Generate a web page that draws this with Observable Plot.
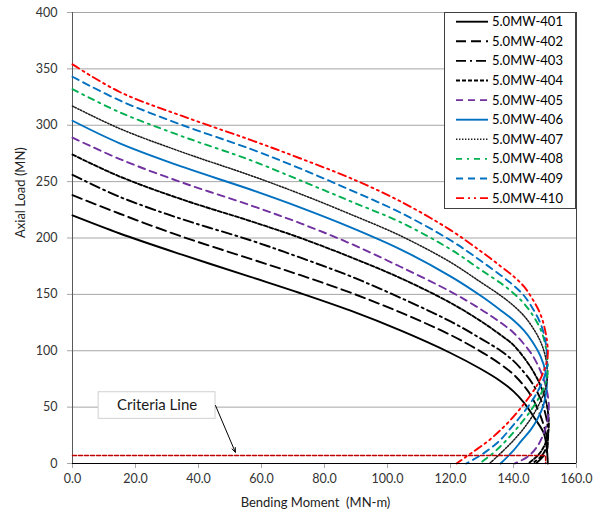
<!DOCTYPE html>
<html><head><meta charset="utf-8">
<script src="https://cdn.jsdelivr.net/npm/d3@7"></script>
<script src="https://cdn.jsdelivr.net/npm/@observablehq/plot@0.6"></script>
<style>body{margin:0;background:#fff;font-family:Lato,sans-serif}</style>
</head><body><div id="chart"></div>
<script>
// ---- data ----
const xTicks = [0, 20, 40, 60, 80, 100, 120, 140, 160];
const yTicks = [0, 50, 100, 150, 200, 250, 300, 350, 400];
const seriesNames = ["5.0MW-401","5.0MW-402","5.0MW-403","5.0MW-404","5.0MW-405","5.0MW-406","5.0MW-407","5.0MW-408","5.0MW-409","5.0MW-410"];
// [bending moment (MN-m), axial load (MN)]
const s401 = [[0,220],[15,204],[35,185],[56.5,165.5],[72.4,151],[88.3,135.5],[104.1,118],[120,98],[129.5,84],[135.9,73],[140,64],[143.3,54],[147,39],[149.6,27],[150.5,15],[150.9,0]];
const s402 = [[0,238],[15,221.5],[35,201],[56.5,181.5],[72.4,167],[88.3,151.5],[104.1,134],[120,114],[129.5,99.5],[135.9,88],[140,79],[143.3,69],[146,58],[148.6,42],[150.2,28],[150.9,18],[150.4,10],[149,5],[147.1,0]];
const s403 = [[0,256],[15,236.5],[35,216.5],[56.5,198],[72.4,182.5],[88.3,166],[104.1,147],[120,126],[129.5,111],[135.9,100],[140,91],[143.3,81],[146,71],[148.6,57],[150.3,42],[151,27],[150.6,16],[149,7],[145.9,0]];
const s404 = [[0,274],[15,254.5],[35,234],[56.5,215],[72.4,200],[88.3,183],[104.1,164.5],[120,142.5],[129.5,126.5],[135.9,114],[140,105],[143.3,94],[146,83],[148.6,69],[150.4,54],[151.2,38],[151,27],[150,17],[148,8],[144.7,0]];
const s405 = [[0,289],[15,270],[35,249],[56.5,229],[72.4,213],[88.3,195],[104.1,174.5],[120,152.5],[129.5,137],[135.9,125],[140,116],[143.3,106],[146,96],[148.6,82],[150.4,67],[151.2,52],[150.8,38],[149.5,26],[147.5,15],[144.5,6],[140.4,0]];
const s406 = [[0,304],[15,284],[35,263],[56.5,243],[72.4,227],[88.3,209.5],[104.1,190],[120,166],[129.5,149],[135.9,136],[140,127],[143.3,118],[146,108],[148.6,95],[150.2,81],[150.6,70],[150.2,60],[149.3,50],[147.7,40],[145.5,30],[142.5,20],[139.5,10],[135.9,0]];
const s407 = [[0,317],[15,297],[35,276],[56.5,255.5],[72.4,239],[88.3,221],[104.1,202],[120,178.5],[129.5,161],[135.9,149],[140,140],[143.3,131],[146,121],[148.6,108],[150.2,94],[150.8,80],[150.6,72],[149.6,62],[148,52],[146,42],[143.5,32],[140.5,22],[137,12],[132.4,0]];
const s408 = [[0,332],[15,311.5],[35,290],[56.5,269],[72.4,251],[88.3,232.5],[104.1,214],[120,190],[129.5,172],[135.9,160],[140,151],[143.3,142],[146,132],[148.6,119],[150.2,104],[150.9,86],[150.6,76],[149.6,67],[147.8,57],[145.5,47],[142.8,37],[139.8,27],[136.5,17],[133,8],[129.3,0]];
const s409 = [[0,343],[15,322],[35,300],[56.5,279],[72.4,261.5],[88.3,242.5],[104.1,222.5],[120,198],[129.5,180],[135.9,167],[140,158],[143.3,149],[146,138],[148.6,124],[150.1,109],[150.7,92],[150.5,84],[149.4,74],[147.5,63],[145,52],[142,41],[139,31],[135.5,20],[130.5,9],[125,0]];
const s410 = [[0,354],[15,329.5],[35,308],[56.5,287],[72.4,270.5],[88.3,253],[104.1,232.5],[120,207],[129.5,188.5],[135.9,175],[140,166],[143.3,157],[146,146],[148.6,132],[150.2,116],[150.9,100],[150.7,92],[149.6,82],[147.8,71],[145.5,61],[142.5,50],[139.5,40],[136,30],[132,20],[127,10],[121.9,0]];
const criteria = [[0,7],[150.2,7],[150.2,0]];
const criteriaLabel = [{text: "Criteria Line", x1: 8.3, x2: 45.4, y1: 39.6, y2: 63.2}];
const criteriaArrow = [{x1: 45.4, y1: 51.4, x2: 51.7, y2: 10}];
const xTitle = "Bending Moment\u00A0 (MN-m)";
const yTitle = "Axial Load (MN)";

// ---- styles ----
const styles = [
  {stroke: "#000000", dash: null, w: 1.9},
  {stroke: "#000000", dash: "10,5", w: 1.9},
  {stroke: "#000000", dash: "10,4,2,4", w: 1.9},
  {stroke: "#000000", dash: "4,2", w: 1.9},
  {stroke: "#7030A0", dash: "7,5", w: 1.9},
  {stroke: "#0070C0", dash: null, w: 1.9},
  {stroke: "#1a1a1a", dash: "1.4,1.6", w: 1.5},
  {stroke: "#00B050", dash: "6,5,2,5", w: 1.9},
  {stroke: "#0070C0", dash: "7,5", w: 1.9},
  {stroke: "#FF0000", dash: "8,4,2,4,2,4", w: 1.9}
];
const allSeries = [s401,s402,s403,s404,s405,s406,s407,s408,s409,s410];

const lineMarks = allSeries.map((s, i) => Plot.line(s, {
  x: d => d[0], y: d => d[1], stroke: styles[i].stroke, strokeWidth: styles[i].w,
  strokeDasharray: styles[i].dash, curve: "catmull-rom"
}));

const chart = Plot.plot({
  width: 606, height: 518,
  marginLeft: 72, marginRight: 30, marginTop: 12, marginBottom: 55,
  x: {domain: [0, 160]},
  y: {domain: [0, 400]},
  style: {fontFamily: "Lato, sans-serif", fontSize: "12.5px", color: "#333", background: "#fff", overflow: "visible"},
  marks: [
    Plot.gridY(yTicks.filter(t => t > 0), {stroke: "#a6a6a6", strokeOpacity: 1}),
    Plot.axisY(yTicks, {tickSize: 5, tickPadding: 10, label: null, stroke: "#a6a6a6", fill: "#333"}),
    Plot.axisX(xTicks, {tickSize: 5, tickPadding: 6, label: null, stroke: "#a6a6a6", fill: "#333", tickFormat: d => d.toFixed(1)}),
    Plot.ruleX([0], {stroke: "#595959"}),
    Plot.ruleX([160], {stroke: "#404040"}),
    ...lineMarks,
    Plot.line(criteria, {x: d => d[0], y: d => d[1], stroke: "#C00000", strokeWidth: 1.5, strokeDasharray: "4,2"}),
    Plot.ruleY([0], {stroke: "#000"}),
    Plot.rect(criteriaLabel, {x1: "x1", x2: "x2", y1: "y1", y2: "y2", fill: "#fff", stroke: "#d0d0d0"}),
    Plot.text(criteriaLabel, {x: d => (d.x1 + d.x2) / 2, y: d => (d.y1 + d.y2) / 2, text: "text", fontSize: 15, fill: "#1a1a1a"}),
    Plot.arrow(criteriaArrow, {x1: "x1", y1: "y1", x2: "x2", y2: "y2", stroke: "#000", strokeWidth: 1, headLength: 7, headAngle: 45}),
    Plot.text([xTitle], {frameAnchor: "bottom", dy: 43, dx: -9, fontSize: 13, fill: "#222"}),
    Plot.text([yTitle], {frameAnchor: "left", dx: -52, rotate: -90, fontSize: 13, fill: "#222"})
  ]
});
document.getElementById("chart").appendChild(chart);

// ---- legend (inside plot, top right) ----
const svg = d3.select(chart);
const lg = svg.append("g").attr("text-anchor", "start");
lg.append("rect").attr("x", 444.5).attr("y", 12.5).attr("width", 131).attr("height", 196)
  .attr("fill", "#fff").attr("stroke", "#404040");
seriesNames.forEach((name, i) => {
  const y = 21.7 + i * 19.6;
  lg.append("line").attr("x1", 456).attr("x2", 488).attr("y1", y).attr("y2", y)
    .attr("stroke", styles[i].stroke).attr("stroke-width", styles[i].w)
    .attr("stroke-dasharray", styles[i].dash);
  lg.append("text").attr("x", 492).attr("y", y).attr("dy", "0.35em").attr("text-anchor", "start")
    .attr("font-family", "Lato, sans-serif").attr("font-size", 13).attr("fill", "#000").text(name);
});
</script></body></html>
